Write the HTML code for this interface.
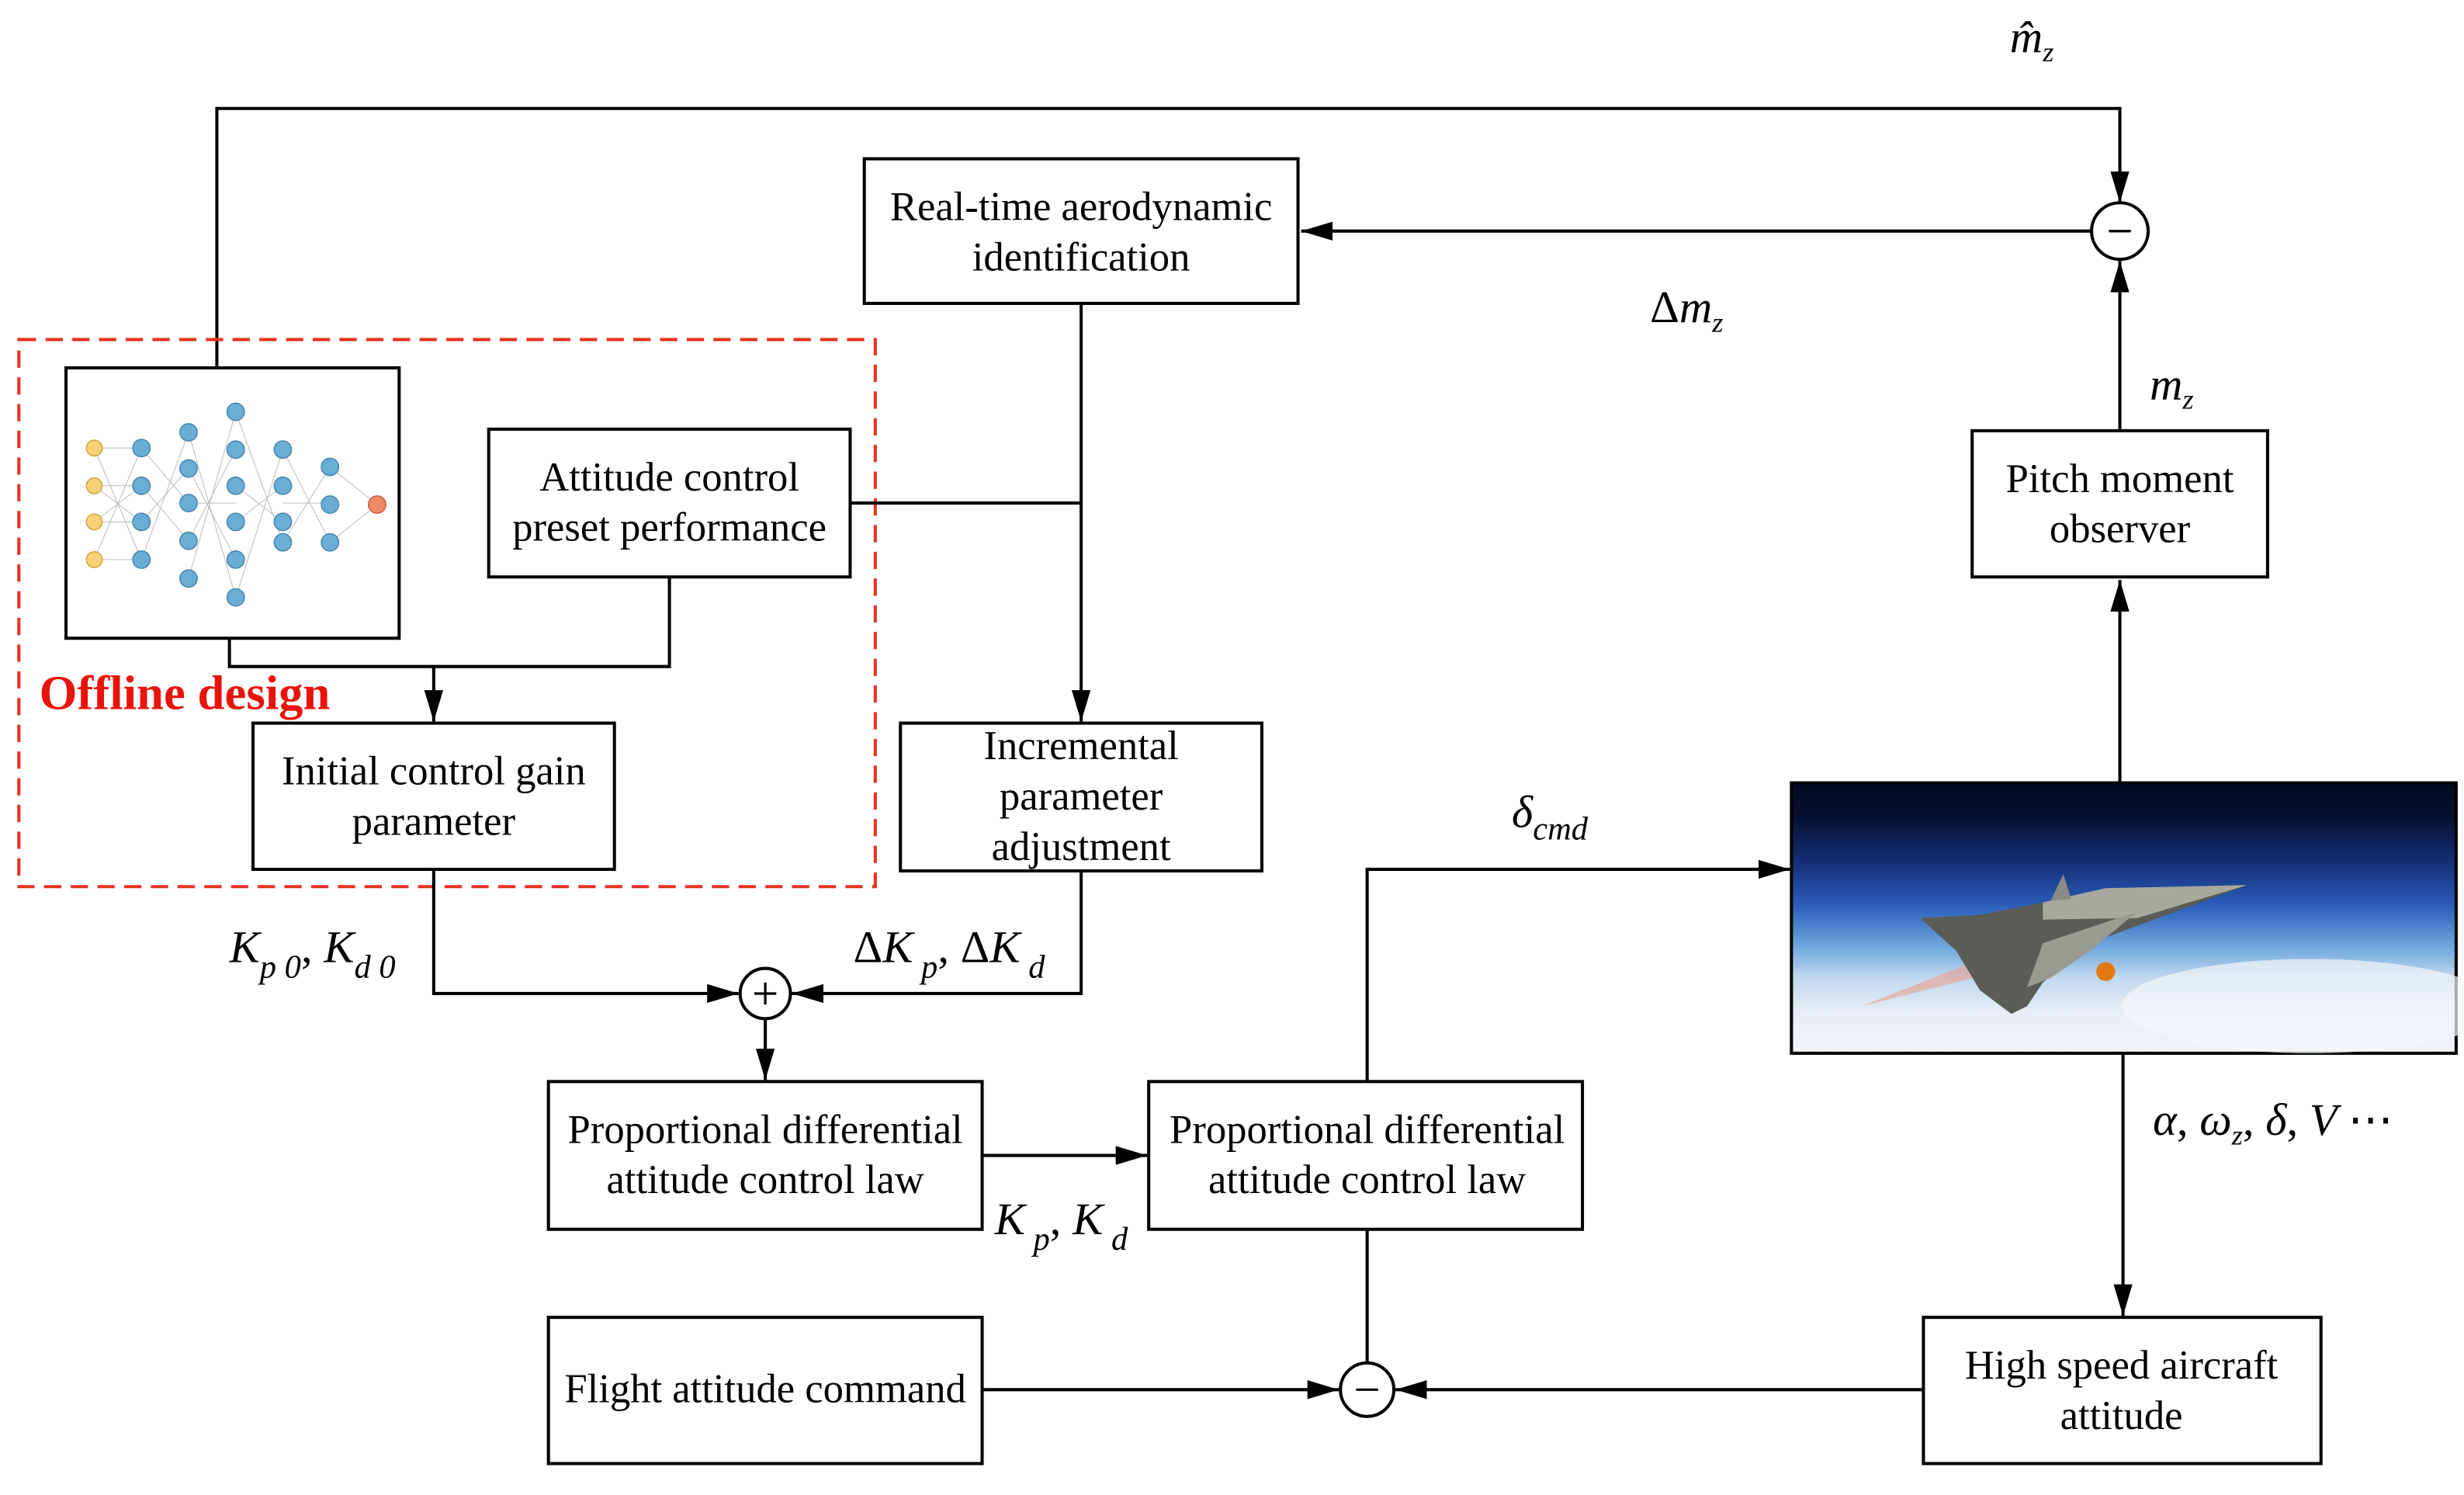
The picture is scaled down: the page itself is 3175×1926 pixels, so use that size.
<!DOCTYPE html>
<html><head><meta charset="utf-8"><style>html,body{margin:0;padding:0;background:#fff}svg{display:block}</style></head>
<body>
<svg width="3175" height="1926" viewBox="0 0 1568 951" preserveAspectRatio="none" xmlns="http://www.w3.org/2000/svg" font-family="Liberation Serif, serif">
<defs>
<marker id="b" viewBox="0 0 20 12" markerWidth="20" markerHeight="12" refX="20" refY="6" orient="auto" markerUnits="userSpaceOnUse"><path d="M0,0 L20,6 L0,12z"/></marker>
<linearGradient id="sky" x1="0" y1="0" x2="0" y2="1">
<stop offset="0" stop-color="#020a22"/><stop offset="0.12" stop-color="#06102e"/><stop offset="0.3" stop-color="#15307a"/><stop offset="0.45" stop-color="#2a5cb8"/><stop offset="0.6" stop-color="#6aa4dc"/><stop offset="0.72" stop-color="#c0d8ee"/><stop offset="0.85" stop-color="#e8eef4"/><stop offset="1" stop-color="#f2f4f6"/></linearGradient>
</defs>
<g fill="none" stroke="#000" stroke-width="2">
<polyline points="138,233 138,69 1349,69 1349,129" marker-end="url(#b)"/>
<circle cx="1349" cy="147" r="18" fill="#fff"/>
<line x1="1331" y1="147" x2="828" y2="147" marker-end="url(#b)"/>
<line x1="1349" y1="273" x2="1349" y2="166" marker-end="url(#b)"/>
<line x1="1349" y1="498" x2="1349" y2="369" marker-end="url(#b)"/>
<rect x="550" y="101" width="276" height="92"/>
<rect x="1255" y="274" width="188" height="93"/>
<rect x="12" y="216" width="545" height="348" stroke="#e8321e" stroke-dasharray="11,6"/>
<rect x="42" y="234" width="212" height="172"/>
<rect x="311" y="273" width="230" height="94"/>
<line x1="541" y1="320" x2="688" y2="320"/>
<line x1="688" y1="193" x2="688" y2="459" marker-end="url(#b)"/>
<rect x="573" y="460" width="230" height="94"/>
<rect x="161" y="460" width="230" height="93"/>
<polyline points="146,406 146,424 426,424 426,367"/>
<line x1="276" y1="424" x2="276" y2="459" marker-end="url(#b)"/>
<polyline points="276,553 276,632 470,632" marker-end="url(#b)"/>
<circle cx="487" cy="632" r="16" fill="#fff"/>
<polyline points="688,554 688,632 504,632" marker-end="url(#b)"/>
<line x1="487" y1="648" x2="487" y2="687" marker-end="url(#b)"/>
<rect x="349" y="688" width="276" height="94"/>
<rect x="731" y="688" width="276" height="94"/>
<line x1="625" y1="735" x2="730" y2="735" marker-end="url(#b)"/>
<polyline points="870,688 870,553 1139,553" marker-end="url(#b)"/>
<line x1="870" y1="782" x2="870" y2="867"/>
<circle cx="870" cy="884" r="17" fill="#fff"/>
<rect x="349" y="838" width="276" height="93"/>
<line x1="625" y1="884" x2="852" y2="884" marker-end="url(#b)"/>
<rect x="1224" y="838" width="253" height="93"/>
<line x1="1224" y1="884" x2="888" y2="884" marker-end="url(#b)"/>
<line x1="1351" y1="670" x2="1351" y2="837" marker-end="url(#b)"/>
</g>
<!-- image -->
<rect x="1140" y="498" width="423" height="172" fill="url(#sky)" stroke="#000" stroke-width="2"/>
<ellipse cx="1470" cy="640" rx="120" ry="30" fill="#f4f6f8" opacity="0.7"/>
<path d="M1185,640 L1290,598 L1296,612z" fill="#e8a090" opacity="0.6"/>
<polygon points="1222,584 1260,582 1300,574 1365,565 1430,563 1330,600 1300,625 1290,640 1280,645 1260,630 1245,605" fill="#5a5c56"/>
<polygon points="1300,574 1340,565 1430,563 1360,584 1300,585" fill="#a8a89e"/>
<polygon points="1290,628 1300,600 1360,580 1330,605 1305,622" fill="#9a9a92"/>
<circle cx="1340" cy="618" r="6" fill="#e07a10"/>
<polygon points="1305,573 1313,556 1318,572" fill="#8c8c84"/>
<!-- minus/plus signs -->
<g stroke="#000" stroke-width="1.6">
<line x1="1342" y1="147" x2="1356" y2="147"/>
<line x1="863" y1="884" x2="877" y2="884"/>
<line x1="480" y1="632" x2="494" y2="632"/><line x1="487" y1="625" x2="487" y2="639"/>
</g>
<!-- NN -->
<g stroke="#bbb" stroke-width="0.5">
<path d="M60,285 L90,285 M60,309 L90,309 M60,332 L90,332 M60,356 L90,356 M90,285 L120,320 M90,356 L120,275 M120,275 L150,380 M120,368 L150,262 M150,262 L180,345 M150,380 L180,286 M180,286 L210,345 M180,345 L210,297 M210,297 L240,321 M210,345 L240,321 M60,285 L90,356 M60,356 L90,285 M120,320 L150,320 M180,320 L210,320 M60,309 L90,332 M60,332 L90,309 M90,309 L120,344 M90,332 L120,298 M120,298 L150,356 M120,344 L150,286 M150,309 L180,332 M150,332 L180,309"/>
</g>
<g fill="#6aaed6" stroke="#4a88b0" stroke-width="0.8">
<g fill="#f5d27a" stroke="#d0a840"><circle cx="60" cy="285" r="5"/><circle cx="60" cy="309" r="5"/><circle cx="60" cy="332" r="5"/><circle cx="60" cy="356" r="5"/></g>
<circle cx="90" cy="285" r="5.5"/><circle cx="90" cy="309" r="5.5"/><circle cx="90" cy="332" r="5.5"/><circle cx="90" cy="356" r="5.5"/>
<circle cx="120" cy="275" r="5.5"/><circle cx="120" cy="298" r="5.5"/><circle cx="120" cy="320" r="5.5"/><circle cx="120" cy="344" r="5.5"/><circle cx="120" cy="368" r="5.5"/>
<circle cx="150" cy="262" r="5.5"/><circle cx="150" cy="286" r="5.5"/><circle cx="150" cy="309" r="5.5"/><circle cx="150" cy="332" r="5.5"/><circle cx="150" cy="356" r="5.5"/><circle cx="150" cy="380" r="5.5"/>
<circle cx="180" cy="286" r="5.5"/><circle cx="180" cy="309" r="5.5"/><circle cx="180" cy="332" r="5.5"/><circle cx="180" cy="345" r="5.5"/>
<circle cx="210" cy="297" r="5.5"/><circle cx="210" cy="321" r="5.5"/><circle cx="210" cy="345" r="5.5"/>
<circle cx="240" cy="321" r="5.5" fill="#ef8a6a" stroke="#c86040"/>
</g>
<!-- text -->
<g font-size="26" text-anchor="middle" fill="#000">
<text x="688" y="140">Real-time aerodynamic</text><text x="688" y="172">identification</text>
<text x="1349" y="313">Pitch moment</text><text x="1349" y="345">observer</text>
<text x="426" y="312">Attitude control</text><text x="426" y="344">preset performance</text>
<text x="688" y="483">Incremental</text><text x="688" y="515">parameter</text><text x="688" y="547">adjustment</text>
<text x="276" y="499">Initial control gain</text><text x="276" y="531">parameter</text>
<text x="487" y="727">Proportional differential</text><text x="487" y="759">attitude control law</text>
<text x="870" y="727">Proportional differential</text><text x="870" y="759">attitude control law</text>
<text x="487" y="892">Flight attitude command</text>
<text x="1350" y="877">High speed aircraft</text><text x="1350" y="909">attitude</text>
</g>
<text x="25" y="451" font-size="31" font-weight="bold" fill="#e8140a">Offline design</text>
<g font-size="29" font-style="italic" fill="#000">
<text x="1279" y="33">m̂<tspan font-size="18" dy="6">z</tspan></text>
<text x="1050" y="205"><tspan font-style="normal">Δ</tspan>m<tspan font-size="18" dy="6">z</tspan></text>
<text x="1368" y="254">m<tspan font-size="18" dy="6">z</tspan></text>
<text x="962" y="526">δ<tspan font-size="21" dy="8">cmd</tspan></text>
<text x="1370" y="722">α<tspan font-style="normal">, </tspan>ω<tspan font-size="18" dy="6">z</tspan><tspan dy="-6" font-style="normal">, </tspan>δ<tspan font-style="normal">, </tspan>V <tspan font-style="normal">⋯</tspan></text>
<text x="146" y="612">K<tspan font-size="21" dy="10">p 0</tspan><tspan dy="-10" font-style="normal">, </tspan>K<tspan font-size="21" dy="10">d 0</tspan></text>
<text x="543" y="612"><tspan font-style="normal">Δ</tspan>K<tspan font-size="21" dy="10"> p</tspan><tspan dy="-10" font-style="normal">, </tspan><tspan font-style="normal">Δ</tspan>K<tspan font-size="21" dy="10"> d</tspan></text>
<text x="633" y="785">K<tspan font-size="21" dy="10"> p</tspan><tspan dy="-10" font-style="normal">, </tspan>K<tspan font-size="21" dy="10"> d</tspan></text>
</g>
</svg>
</body></html>
